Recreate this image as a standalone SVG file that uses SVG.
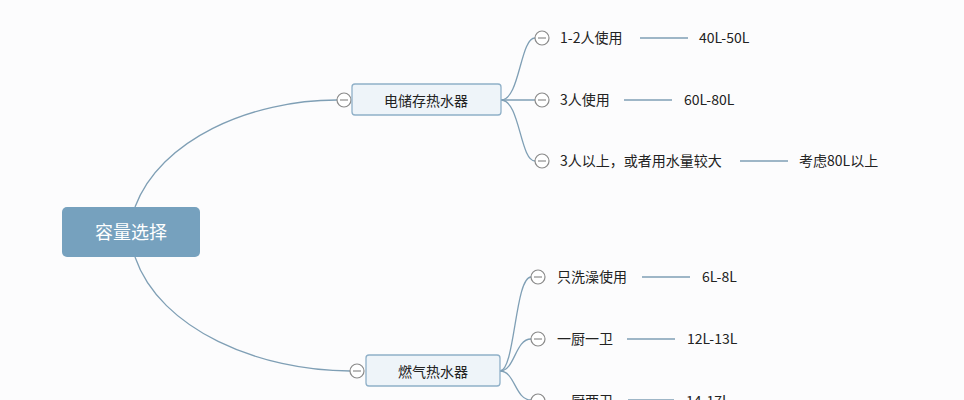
<svg xmlns="http://www.w3.org/2000/svg" width="964" height="400" viewBox="0 0 964 400">
<style>
.e{fill:none;stroke:#7f9fb5;stroke-width:1.3}
.c{fill:#fff;stroke:#8a8a8a;stroke-width:1.2}
.t{font-family:"Noto Sans CJK SC","Liberation Sans",sans-serif;font-size:14px;fill:#222}
.n{fill:#eef4f9;stroke:#8fb0c8;stroke-width:1.3}
</style>
<rect width="964" height="400" fill="#fcfcfd"/>
<g id="connectors">
<path class="e" d="M135,207 C160,140 250,100 337,100"/>
<path class="e" d="M135,257 C160,330 260,371 350,371"/>
<path class="e" d="M501,100 C520,100 520,38 535,38"/>
<path class="e" d="M501,100 L535,100"/>
<path class="e" d="M501,100 C520,100 520,161 535,161"/>
<path class="e" d="M500,371 C515,371 515,277 531,277"/>
<path class="e" d="M500,371 C515,371 515,339 531,339"/>
<path class="e" d="M500,371 C515,371 515,400 531,400"/>
<path class="e" d="M640,38 H688 M624,100 H672 M740,161 H788 M642,277 H690 M627,339 H675 M628,400 H674"/>
</g>
<g id="root"><rect x="62" y="207" width="138" height="50" rx="5" fill="#76a1be"/><text x="131" y="239" text-anchor="middle" font-family="Noto Sans CJK SC,sans-serif" font-size="18" fill="#fff">容量选择</text></g>
<g id="n1"><circle class="c" cx="344" cy="100" r="7"/><path d="M340,100h8" stroke="#777"/><rect class="n" x="352" y="84" width="149" height="31" rx="3"/><text class="t" x="426" y="106" text-anchor="middle" font-size="17">电储存热水器</text></g>
<g id="n2"><circle class="c" cx="357" cy="371" r="7"/><path d="M353,371h8" stroke="#777"/><rect class="n" x="366" y="355" width="134" height="31" rx="3"/><text class="t" x="433" y="377" text-anchor="middle" font-size="17">燃气热水器</text></g>
<g id="a1"><circle class="c" cx="542" cy="38" r="7"/><path d="M538,38h8" stroke="#777"/><text class="t" x="560" y="43">1-2人使用</text><text class="t" x="699" y="43">40L-50L</text></g>
<g id="a2"><circle class="c" cx="542" cy="100" r="7"/><path d="M538,100h8" stroke="#777"/><text class="t" x="560" y="105">3人使用</text><text class="t" x="684" y="105">60L-80L</text></g>
<g id="a3"><circle class="c" cx="542" cy="161" r="7"/><path d="M538,161h8" stroke="#777"/><text class="t" x="560" y="166">3人以上，或者用水量较大</text><text class="t" x="799" y="166">考虑80L以上</text></g>
<g id="b1"><circle class="c" cx="538" cy="277" r="7"/><path d="M534,277h8" stroke="#777"/><text class="t" x="557" y="282">只洗澡使用</text><text class="t" x="702" y="282">6L-8L</text></g>
<g id="b2"><circle class="c" cx="538" cy="339" r="7"/><path d="M534,339h8" stroke="#777"/><text class="t" x="557" y="344">一厨一卫</text><text class="t" x="687" y="344">12L-13L</text></g>
<g id="b3"><circle class="c" cx="538" cy="401" r="7"/><text class="t" x="557" y="406">一厨两卫</text><text class="t" x="686" y="406">14-17L</text></g>
</svg>
